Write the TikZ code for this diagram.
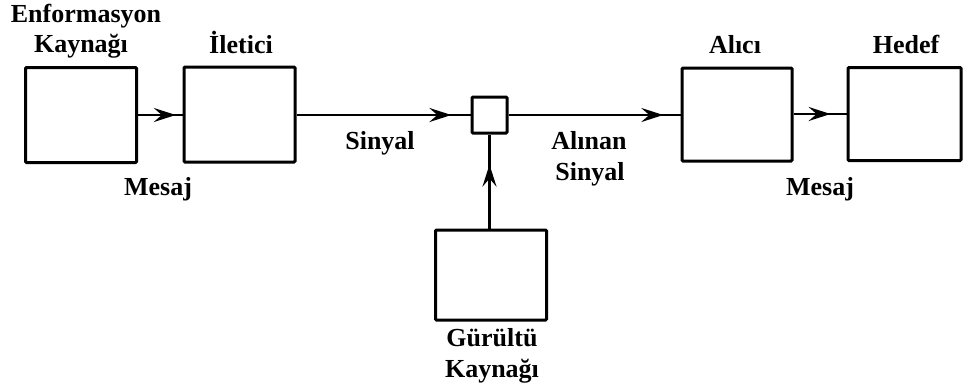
\documentclass[tikz,border=0pt]{standalone}
\usepackage{fontspec}
\setmainfont{Liberation Serif}
\usetikzlibrary{arrows.meta,decorations.markings}
\tikzset{
  blk/.style={draw, line width=3pt, inner sep=0pt, rounded corners=1pt},
  lbl/.style={inner sep=0pt, anchor=base, font=\fontsize{26}{31}\selectfont\bfseries},
  conn/.style={line width=2.6pt},
  midarrow/.style={postaction={decorate}, decoration={markings,
     mark=at position #1 with {\arrow{Stealth[length=22pt,width=14pt,inset=8pt]}}}}
}
\begin{document}
\begin{tikzpicture}[x=1pt,y=-1pt]
\useasboundingbox (0,0) rectangle (964,389);
% boxes
\node[blk, minimum width=111pt, minimum height=95pt] (src) at (81,115) {};
\node[blk, minimum width=111pt, minimum height=95pt] (tx) at (239.5,114.5) {};
\node[blk, minimum width=35pt, minimum height=36pt] (mix) at (489.5,115) {};
\node[blk, minimum width=110pt, minimum height=93pt] (rx) at (737,114.5) {};
\node[blk, minimum width=113pt, minimum height=93pt] (dst) at (904.5,114) {};
\node[blk, minimum width=111pt, minimum height=90pt] (noise) at (491,275) {};
% connectors
\draw[conn, midarrow=0.85] (src.east) -- (tx.west |- src.east);
\draw[conn, midarrow=0.89] (tx.east |- mix.west) -- (mix.west);
\draw[conn, midarrow=0.9] (mix.east) -- (rx.west |- mix.east);
\draw[conn, midarrow=0.7] (rx.east |- dst.west) -- (dst.west);
\draw[conn, midarrow=0.68] (noise.north -| mix.south) -- (mix.south);
% labels
\node[lbl] (l1) at (86,22) {Enformasyon};
\node[lbl] (l2) at (81,52) {Kaynağı};
\node[lbl] (l3) at (241,53) {İletici};
\node[lbl] (l4) at (158,195) {Mesaj};
\node[lbl] (l5) at (380,149) {Sinyal};
\node[lbl] (l6) at (589,149) {Alınan};
\node[lbl] (l7) at (590,180) {Sinyal};
\node[lbl] (l8) at (735,53) {Alıcı};
\node[lbl] (l9) at (906,53) {Hedef};
\node[lbl] (l10) at (820,195) {Mesaj};
\node[lbl] (l11) at (492,346) {Gürültü};
\node[lbl] (l12) at (492,377) {Kaynağı};
\end{tikzpicture}
\end{document}
